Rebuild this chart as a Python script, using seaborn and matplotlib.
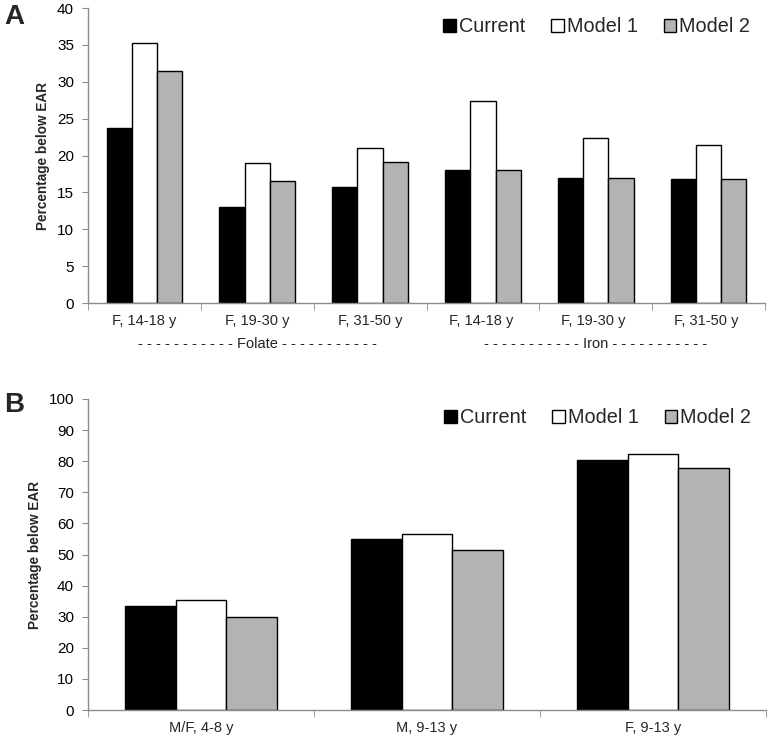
import pandas as pd
import matplotlib
matplotlib.use("Agg")
import matplotlib.pyplot as plt
import matplotlib.transforms as mtransforms
import seaborn as sns

# panel A data
cats_a = ["F, 14-18 y", "F, 19-30 y", "F, 31-50 y", "F, 14-18 y ", "F, 19-30 y ", "F, 31-50 y "]
current_a = [23.7, 13.0, 15.7, 18.0, 17.0, 16.8]
model1_a = [35.2, 19.0, 21.0, 27.4, 22.4, 21.4]
model2_a = [31.5, 16.6, 19.1, 18.0, 17.0, 16.8]
nutrients = ["Folate", "Iron"]

# panel B data
cats_b = ["M/F, 4-8 y", "M, 9-13 y", "F, 9-13 y"]
current_b = [33.6, 55.0, 80.5]
model1_b = [35.5, 56.5, 82.3]
model2_b = [29.9, 51.3, 77.7]

series = ["Current", "Model 1", "Model 2"]
colors = ["#000000", "#ffffff", "#b3b3b3"]


def long_df(cats, cur, m1, m2):
    rows = []
    for name, vals in zip(series, [cur, m1, m2]):
        for c, v in zip(cats, vals):
            rows.append({"cat": c, "series": name, "value": v})
    return pd.DataFrame(rows)


sns.set_style("ticks")
plt.rcParams["font.family"] = ["Liberation Sans", "DejaVu Sans"]


def draw(ax, df, cats, ymax, ystep):
    sns.barplot(data=df, x="cat", y="value", hue="series", order=cats,
                hue_order=series, palette=colors, edgecolor="black",
                linewidth=1.0, width=0.67, saturation=1, ax=ax)
    ax.set_xlim(-0.5, len(cats) - 0.5)
    ax.set_ylim(0, ymax)
    ax.set_yticks(range(0, ymax + 1, ystep))
    ax.set_xlabel("")
    ax.set_ylabel("Percentage below EAR", fontsize=9.8, fontweight="bold", labelpad=5)
    sns.despine(ax=ax)
    for s in ["left", "bottom"]:
        ax.spines[s].set_color("#8c8c8c")
        ax.spines[s].set_linewidth(1.0)
    ax.tick_params(axis="y", colors="#8c8c8c", labelcolor="black", labelsize=11,
                   length=4, pad=6)
    ax.tick_params(axis="x", which="major", length=0, labelsize=10.5, pad=8)
    ax.set_xticks([i - 0.5 for i in range(len(cats) + 1)], minor=True)
    ax.tick_params(axis="x", which="minor", length=5, colors="#8c8c8c")
    ax.legend(loc="upper right", bbox_to_anchor=(0.99, 0.995), ncol=3, frameon=False,
              fontsize=14.3, handlelength=0.65, handleheight=0.65, handletextpad=0.15,
              columnspacing=1.3, borderaxespad=0)


fig = plt.figure(figsize=(7.69, 7.38), dpi=100)
ax_a = fig.add_axes([88 / 769, 1 - 303 / 738, 677 / 769, 295 / 738])
ax_b = fig.add_axes([88 / 769, 1 - 710 / 738, 678 / 769, 311 / 738])

draw(ax_a, long_df(cats_a, current_a, model1_a, model2_a), cats_a, 40, 5)
draw(ax_b, long_df(cats_b, current_b, model1_b, model2_b), cats_b, 100, 10)

trans = mtransforms.blended_transform_factory(ax_a.transData, ax_a.transAxes)
dashes = "- - - - - - - - - - -"
for i, name in enumerate(nutrients):
    ax_a.text(3 * i + 1, -0.14, f"{dashes} {name} {dashes}", transform=trans,
              ha="center", va="center", fontsize=10.5, color="#222222")

fig.text(4 / 769, 1 - 17 / 738, "A", fontsize=20, fontweight="bold", va="center")
fig.text(4 / 769, 1 - 405 / 738, "B", fontsize=20, fontweight="bold", va="center")

fig.savefig("out.png", dpi=100)
